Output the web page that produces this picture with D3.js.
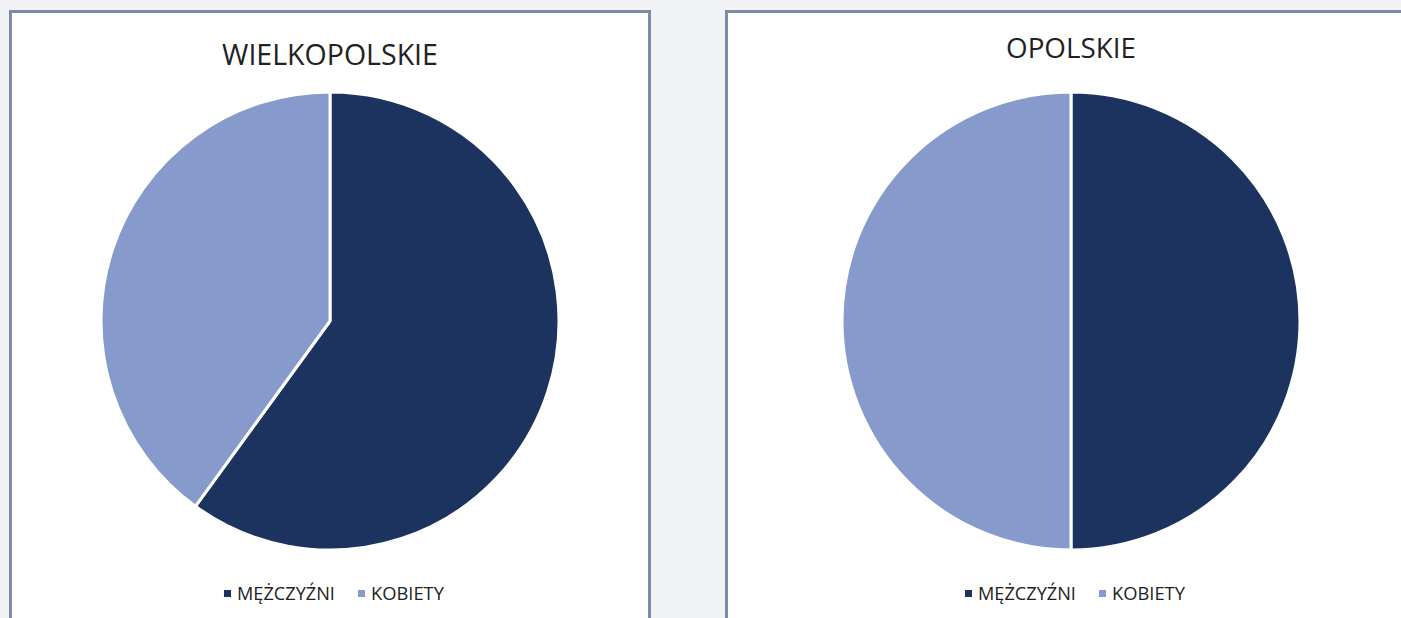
<!DOCTYPE html>
<html>
<head>
<meta charset="utf-8">
<script src="https://cdn.jsdelivr.net/npm/d3@7"></script>
<style>
  body { margin: 0; background: #f0f2f5; }
  svg { display: block; }
</style>
</head>
<body>
<div id="chart"></div>
<script>
// Data
var regions = ["WIELKOPOLSKIE", "OPOLSKIE"];
var categories = ["MĘŻCZYŹNI", "KOBIETY"];
var menShare = [60, 50];
var womenShare = [40, 50];

// Define svg dimension
var svgWidth = 1401;
var svgHeight = 618;

var colors = d3.scaleOrdinal()
    .domain(categories)
    .range(["#1b335e", "#869bcb"]);

var svg = d3.select("#chart")
    .append("svg")
    .attr("width", svgWidth)
    .attr("height", svgHeight);

// Panel layout (left edge, center x)
var panels = [
    {x: 9, w: 642, cx: 330, titleY: 65, titleW: 216},
    {x: 725, w: 700, cx: 1071, titleY: 58, titleW: 130}
];
var cy = 321;
var radius = 229;
var font = "'Open Sans', sans-serif";

var pie = d3.pie().sort(null).value(d => d.value);
var arc = d3.arc().innerRadius(0).outerRadius(radius);

regions.forEach(function(name, i) {
    var p = panels[i];
    var g = svg.append("g");

    // Panel box
    g.append("rect")
        .attr("x", p.x + 1.5)
        .attr("y", 11.5)
        .attr("width", p.w - 3)
        .attr("height", svgHeight)
        .attr("fill", "#ffffff")
        .attr("stroke", "#7a8caa")
        .attr("stroke-width", 3);

    // Title
    var title = g.append("text")
        .attr("x", p.cx)
        .attr("y", p.titleY)
        .attr("text-anchor", "middle")
        .attr("font-family", font)
        .attr("font-size", 30)
        .attr("fill", "#222222")
        .text(name);
    var tw = title.node().getComputedTextLength();
    title.attr("font-size", 30 * p.titleW / tw);

    // Pie
    var data = [
        {key: categories[0], value: menShare[i]},
        {key: categories[1], value: womenShare[i]}
    ];
    g.append("g")
        .attr("transform", `translate(${p.cx}, ${cy})`)
        .selectAll("path")
        .data(pie(data))
        .enter()
        .append("path")
        .attr("d", arc)
        .attr("fill", d => colors(d.data.key))
        .attr("stroke", "#ffffff")
        .attr("stroke-width", 3)
        .attr("stroke-linejoin", "round");

    // Legend
    var legendX = [p.cx - 106, p.cx + 28];
    var legendW = [98, 73];
    categories.forEach(function(c, j) {
        g.append("rect")
            .attr("x", legendX[j])
            .attr("y", 590)
            .attr("width", 7)
            .attr("height", 7)
            .attr("fill", colors(c));
        var t = g.append("text")
            .attr("x", legendX[j] + 13)
            .attr("y", 600)
            .attr("font-family", font)
            .attr("font-size", 18)
            .attr("fill", "#222222")
            .text(c);
        var lw = t.node().getComputedTextLength();
        t.attr("font-size", 18 * legendW[j] / lw);
    });
});
</script>
</body>
</html>
